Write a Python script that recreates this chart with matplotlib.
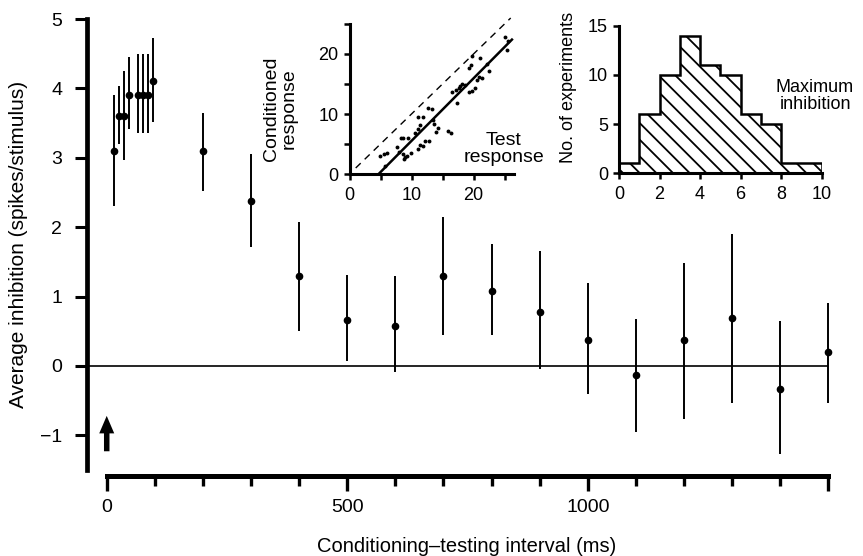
import matplotlib
matplotlib.use('Agg')
import matplotlib.pyplot as plt
from matplotlib.ticker import FixedLocator

plt.rcParams['font.family'] = ['Liberation Sans', 'DejaVu Sans']
plt.rcParams['hatch.linewidth'] = 1.3

# main plot: average inhibition vs conditioning-testing interval
interval_ms = [16, 26, 36, 46, 66, 76, 86, 96, 200, 300, 400, 500, 600,
               700, 800, 900, 1000, 1100, 1200, 1300, 1400, 1500]
inhibition = [3.1, 3.6, 3.6, 3.9, 3.9, 3.9, 3.9, 4.1, 3.1, 2.37, 1.29, 0.66,
              0.58, 1.29, 1.08, 0.78, 0.37, -0.13, 0.37, 0.69, -0.33, 0.2]
bar_top = [3.9, 4.03, 4.25, 4.45, 4.5, 4.5, 4.5, 4.72, 3.65, 3.05, 2.07, 1.31,
           1.3, 2.15, 1.76, 1.66, 1.2, 0.68, 1.48, 1.9, 0.65, 0.91]
bar_bottom = [2.3, 3.2, 2.97, 3.42, 3.35, 3.35, 3.35, 3.52, 2.52, 1.72, 0.51, 0.07,
              -0.09, 0.45, 0.45, -0.05, -0.41, -0.95, -0.77, -0.53, -1.27, -0.54]

# inset 1: conditioned vs test response
test_resp = [4.9, 5.6, 6.1, 5.7, 7.7, 8.0, 8.6, 8.9, 8.8, 9.2, 8.3, 8.7, 9.5,
             10.6, 11.0, 11.3, 11.0, 11.9, 12.6, 13.3, 13.4, 13.7, 14.3, 15.9,
             16.3, 11.0, 11.3, 11.9, 12.2, 12.9, 16.6, 17.2, 17.3, 17.6, 17.9,
             18.2, 18.6, 19.3, 19.8, 20.2, 20.5, 20.9, 21.4, 19.3, 19.6, 19.8,
             21.1, 22.1, 22.5, 25.0, 25.5, 25.4, 9.9, 14.0]
cond_resp = [3.05, 3.3, 3.55, 1.3, 4.55, 3.7, 3.3, 2.9, 2.5, 3.0, 5.95, 5.95, 5.95,
             6.8, 7.5, 8.2, 9.55, 9.55, 10.95, 10.8, 9.0, 8.4, 7.6, 7.2,
             6.9, 4.1, 4.8, 4.7, 5.5, 5.5, 13.7, 14.0, 11.9, 14.3, 14.7,
             15.0, 14.8, 13.6, 13.8, 14.3, 15.7, 16.2, 16.0, 17.6, 18.2, 19.6,
             19.3, 18.4, 17.2, 22.8, 22.1, 20.7, 3.5, 7.0]
fit_x = [4.7, 26.2]
fit_y = [0, 22.4]
unity = [1, 26]

# inset 2: histogram of maximum inhibition
bin_edges = [0, 1, 2, 3, 4, 5, 6, 7, 8, 9, 10]
n_experiments = [1, 6, 10, 14, 11, 10, 6, 5, 1, 1]

W, H = 863, 556
fig = plt.figure(figsize=(W / 100, H / 100), dpi=100)


def add_ax(left, top, right, bottom):
    return fig.add_axes([left / W, 1 - bottom / H, (right - left) / W, (bottom - top) / H])


def fig_text(x, y, s, **kw):
    fig.text(x / W, 1 - y / H, s, **kw)


# ---- main axes
ax = add_ax(87, 19, 838, 470)
ax.set_xlim(-41, 1520)
ax.set_ylim(-1.5, 5)
ax.patch.set_alpha(0)
for s in ['top', 'right']:
    ax.spines[s].set_visible(False)
ax.spines['left'].set_linewidth(3.4)
ax.spines['left'].set_bounds(-1.5, 5)
ax.spines['bottom'].set_linewidth(3.6)
ax.spines['bottom'].set_position(('outward', 4))
ax.spines['bottom'].set_bounds(0, 1500)

ax.yaxis.set_major_locator(FixedLocator(range(-1, 6)))
ax.set_yticklabels(['\u22121', '0', '1', '2', '3', '4', '5'])
ax.tick_params(axis='y', length=9, width=2.2, labelsize=14, pad=9)
ax.xaxis.set_major_locator(FixedLocator([0, 500, 1000, 1500]))
ax.set_xticklabels(['0', '500', '1000', ''])
ax.xaxis.set_minor_locator(FixedLocator(range(100, 1500, 100)))
ax.tick_params(axis='x', which='major', length=11, width=2.4, labelsize=14, pad=6)
ax.tick_params(axis='x', which='minor', length=7, width=2.4)

ax.hlines(0, -41, 1500, color='k', lw=1.2)
yerr = [[m - b for m, b in zip(inhibition, bar_bottom)],
        [t - m for m, t in zip(inhibition, bar_top)]]
ax.errorbar(interval_ms, inhibition, yerr=yerr, fmt='o', color='k', ms=4.5,
            elinewidth=1.4, capsize=0, clip_on=False)

# stimulus arrow
ax.annotate('', xy=(0, -0.72), xytext=(0, -1.23),
            arrowprops=dict(arrowstyle='simple,head_length=0.7,head_width=0.6,tail_width=0.22',
                            color='k', lw=0, mutation_scale=18, shrinkA=0, shrinkB=0))

fig_text(19, 244, 'Average inhibition (spikes/stimulus)', rotation=90,
         ha='center', va='center', fontsize=15)
fig_text(467, 546, 'Conditioning\u2013testing interval (ms)',
         ha='center', va='center', fontsize=14.5)

# ---- inset 1
ax1 = add_ax(349.5, 15, 513.8, 174)
ax1.set_xlim(0, 26.5)
ax1.set_ylim(0, 26.5)
ax1.patch.set_alpha(0)
for s in ['top', 'right']:
    ax1.spines[s].set_visible(False)
for s in ['left', 'bottom']:
    ax1.spines[s].set_linewidth(2.2)
ax1.spines['left'].set_bounds(0, 25)
ax1.xaxis.set_major_locator(FixedLocator([0, 10, 20]))
ax1.xaxis.set_minor_locator(FixedLocator([5, 15, 25]))
ax1.yaxis.set_major_locator(FixedLocator([0, 10, 20]))
ax1.yaxis.set_minor_locator(FixedLocator([5, 15, 25]))
ax1.tick_params(which='both', direction='out', length=4, width=1.8, labelsize=13)
ax1.tick_params(axis='x', pad=5)
ax1.tick_params(axis='y', pad=4)
ax1.plot(unity, unity, color='k', lw=1.0, ls=(0, (5, 4)))
ax1.plot(fit_x, fit_y, color='k', lw=1.8)
ax1.plot(test_resp, cond_resp, 'o', color='k', ms=2.8, mew=0)

fig_text(280, 109, 'Conditioned\nresponse', rotation=90, ha='center', va='center',
         fontsize=14, linespacing=1.05)
fig_text(504, 149, 'Test\nresponse', ha='center', va='center',
         fontsize=14, linespacing=1.05)

# ---- inset 2
ax2 = add_ax(619, 25.7, 821.7, 173.3)
ax2.set_xlim(0, 10)
ax2.set_ylim(0, 15)
ax2.patch.set_alpha(0)
for s in ['top', 'right']:
    ax2.spines[s].set_visible(False)
for s in ['left', 'bottom']:
    ax2.spines[s].set_linewidth(2.2)
ax2.set_xticks([0, 2, 4, 6, 8, 10])
ax2.set_yticks([0, 5, 10, 15])
ax2.tick_params(direction='out', length=4, width=1.8, labelsize=13)
ax2.tick_params(axis='x', pad=5)
ax2.tick_params(axis='y', pad=4)
ax2.stairs(n_experiments, bin_edges, fill=True, facecolor='white',
           edgecolor='k', hatch='\\\\', lw=0)
ax2.stairs(n_experiments, bin_edges, baseline=0, color='k', lw=1.8)

fig_text(568, 87, 'No. of experiments', rotation=90, ha='center', va='center', fontsize=13)
fig_text(815, 96, 'Maximum\ninhibition', ha='center', va='center',
         fontsize=13, linespacing=1.0)

fig.savefig('out.png', dpi=100)
